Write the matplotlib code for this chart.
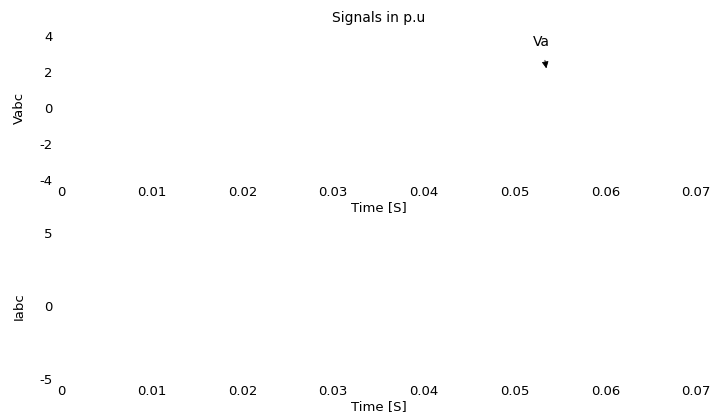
import matplotlib
matplotlib.use("Agg")
import matplotlib.pyplot as plt

plt.rcParams['font.family'] = ['DejaVu Sans']

x_ticks = [0, 0.01, 0.02, 0.03, 0.04, 0.05, 0.06, 0.07]
x_tick_labels = ["0", "0.01", "0.02", "0.03", "0.04", "0.05", "0.06", "0.07"]
v_ticks = [-4, -2, 0, 2, 4]
i_ticks = [-5, 0, 5]
va_point = (0.0535, 2.2)
va_text = (0.0530, 3.65)

FS = 9.5
W = 712.0
H = 413.0
x0, x1 = 61, 696

fig = plt.figure(figsize=(7.12, 4.13), dpi=100)
ax1 = fig.add_axes([x0 / W, 1 - 180 / H, (x1 - x0) / W, 144 / H])
ax2 = fig.add_axes([x0 / W, 1 - 379 / H, (x1 - x0) / W, 146 / H])

for ax, yt, ylab in [(ax1, v_ticks, "Vabc"), (ax2, i_ticks, "Iabc")]:
    ax.set_xlim(0, 0.07)
    ax.set_ylim(min(yt), max(yt))
    ax.set_xticks(x_ticks)
    ax.set_xticklabels(x_tick_labels)
    ax.set_yticks(yt)
    ax.set_yticklabels([str(v) for v in yt])
    for s in ax.spines.values():
        s.set_visible(False)
    ax.tick_params(length=0, labelsize=FS)
    ax.tick_params(axis='y', pad=6)
    ax.tick_params(axis='x', pad=4.5)
    ax.set_xlabel("Time [S]", fontsize=FS, labelpad=1.5)
    ax.set_ylabel(ylab, fontsize=FS, labelpad=10)
    ax.set_facecolor('white')

ax1.set_title("Signals in p.u", fontsize=FS + 0.5, pad=10)
ax1.annotate("Va", xy=va_point, xytext=va_text, fontsize=FS + 0.5, ha='center', va='center',
             arrowprops=dict(arrowstyle='-|>', color='black', lw=0.6,
                             mutation_scale=10, shrinkA=6, shrinkB=0))

fig.savefig("out.png", dpi=100, facecolor='white')
